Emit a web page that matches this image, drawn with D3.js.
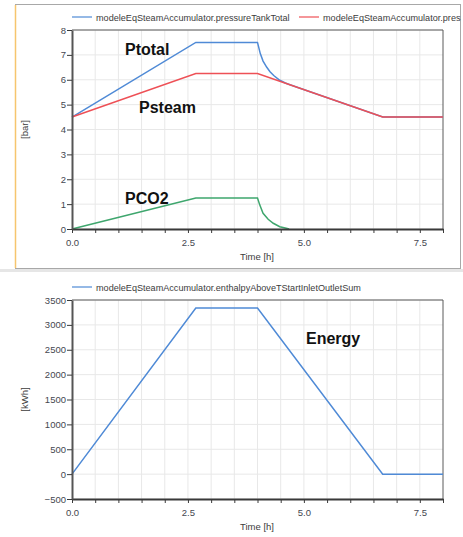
<!DOCTYPE html>
<html>
<head>
<meta charset="utf-8">
<script src="https://cdn.jsdelivr.net/npm/d3@7"></script>
<style>
  body { margin: 0; background: #fff; }
  text { font-family: "Liberation Sans", Arial, sans-serif; }
  .tick text { fill: #45474f; font-size: 9.5px; }
  .legend { fill: #3c3c3c; font-size: 9.1px; }
  .axis-label { fill: #3c3c3c; font-size: 9.5px; }
  .note { fill: #111; font-size: 16px; font-weight: bold; }
</style>
</head>
<body>
<div id="chart"></div>
<script>
// 1: DATA
const xTickLabels = [0, 2.5, 5, 7.5];

const pTotalTime = [0, 2.67, 4.0, 4.06, 4.12, 4.2, 4.27, 4.35, 4.48, 4.6, 4.7, 6.7, 8.0];
const pTotalVal  = [4.5, 7.5, 7.5, 7.05, 6.75, 6.5, 6.32, 6.17, 5.98, 5.87, 5.8, 4.5, 4.5];

const pSteamTime = [0, 2.67, 4.0, 6.7, 8.0];
const pSteamVal  = [4.5, 6.25, 6.25, 4.5, 4.5];

const pCO2Time = [0, 2.67, 4.0, 4.05, 4.12, 4.23, 4.34, 4.48, 4.62, 4.68];
const pCO2Val  = [0, 1.25, 1.25, 0.96, 0.63, 0.39, 0.23, 0.09, 0.03, 0];

const energyTime = [0, 2.67, 4.0, 6.7, 8.0];
const energyVal  = [0, 3340, 3340, 0, 0];

// second name is cut by the window edge in the original, keep what shows
const legendTop = ["modeleEqSteamAccumulator.pressureTankTotal", "modeleEqSteamAccumulator.pres"];
const legendBottom = ["modeleEqSteamAccumulator.enthalpyAboveTStartInletOutletSum"];

const blue = "#4f8ad6", red = "#ee5056", green = "#3ea66d";

const zip = (ts, vs) => ts.map((t, i) => ({ t, v: vs[i] }));

// 2: SVG
const svg = d3.select("#chart").append("svg")
    .attr("width", 463)
    .attr("height", 537);

// frame around top panel
svg.append("rect").attr("x", 0).attr("y", 269).attr("width", 463).attr("height", 3).attr("fill", "#e6e6e6");
svg.append("rect")
    .attr("x", 15.5).attr("y", 4.5).attr("width", 445).attr("height", 264)
    .attr("fill", "#fff").attr("stroke", "#a8a8a8");
svg.append("line").attr("x1", 15.5).attr("x2", 15.5).attr("y1", 5).attr("y2", 268)
    .attr("stroke", "#f6c56e").attr("stroke-width", 1.5);

// 3: PANEL BUILDER
function drawPanel(p) {
    const x = d3.scaleLinear().domain([0, 8]).range([72, 443]);
    const y = d3.scaleLinear().domain(p.yDomain).range([p.bottom, p.top]);
    const g = svg.append("g");

    // grid
    g.selectAll(".vgrid").data(d3.range(0.5, 8, 0.5)).enter().append("line")
        .attr("x1", d => x(d)).attr("x2", d => x(d))
        .attr("y1", p.top).attr("y2", p.bottom)
        .attr("stroke", "#e8e8e8");
    g.selectAll(".hgrid").data(p.yTicks).enter().append("line")
        .attr("x1", 72).attr("x2", 443)
        .attr("y1", d => y(d)).attr("y2", d => y(d))
        .attr("stroke", "#e8e8e8");

    // frame top/right
    g.append("path")
        .attr("d", `M72,${p.top}H443V${p.bottom}`)
        .attr("fill", "none").attr("stroke", "#5a5a5a");

    // lines
    const line = d3.line().x(d => x(d.t)).y(d => y(d.v));
    p.series.forEach(s => {
        g.append("path").datum(s.data).attr("d", line)
            .attr("fill", "none").attr("stroke", s.color).attr("stroke-width", 1.5);
    });

    // axes
    const xAxis = g.append("g")
        .attr("transform", `translate(0,${p.bottom})`)
        .call(d3.axisBottom(x).tickValues(d3.range(0, 8.01, 0.5)).tickSize(4).tickSizeOuter(0)
            .tickFormat(d => xTickLabels.includes(d) ? d3.format(".1f")(d) : ""));
    xAxis.select(".domain").attr("stroke", "#3a3a3a").attr("stroke-width", 2);
    xAxis.selectAll(".tick line").attr("stroke", "#3a3a3a");
    xAxis.selectAll(".tick text").attr("dy", "1.1em");

    const yAxis = g.append("g")
        .attr("transform", "translate(72,0)")
        .call(d3.axisLeft(y).tickValues(p.yTicks).tickSize(5).tickSizeOuter(0).tickPadding(1)
            .tickFormat(d3.format("d")));
    yAxis.select(".domain").attr("stroke", "#555").attr("stroke-width", 2);
    yAxis.selectAll(".tick line").attr("stroke", "#3a3a3a");
    yAxis.selectAll("text").attr("font-family", "Liberation Sans, Arial, sans-serif");
    xAxis.selectAll("text").attr("font-family", "Liberation Sans, Arial, sans-serif");

    // labels
    g.append("text").attr("class", "axis-label")
        .attr("text-anchor", "middle")
        .attr("x", 257).attr("y", p.bottom + 31)
        .text("Time [h]");
    g.append("text").attr("class", "axis-label")
        .attr("text-anchor", "middle")
        .attr("transform", `translate(28,${(p.top + p.bottom) / 2}) rotate(-90)`)
        .text(p.yLabel);

    // legend
    p.legend.forEach((name, i) => {
        const lx = p.legendX[i];
        g.append("line").attr("x1", lx).attr("x2", lx + 20)
            .attr("y1", p.legendY).attr("y2", p.legendY)
            .attr("stroke", p.series[i].color).attr("stroke-width", 1.2);
        g.append("text").attr("class", "legend")
            .attr("x", lx + 24).attr("y", p.legendY + 3.5)
            .text(name);
    });

    // annotations
    p.notes.forEach(n => {
        g.append("text").attr("class", "note")
            .attr("x", n.x).attr("y", n.y).text(n.text);
    });
}

// 4: TOP PANEL (pressures)
drawPanel({
    top: 30, bottom: 229,
    yDomain: [0, 8], yTicks: d3.range(0, 9, 1),
    yLabel: "[bar]",
    series: [
        { data: zip(pTotalTime, pTotalVal), color: blue },
        { data: zip(pSteamTime, pSteamVal), color: red },
        { data: zip(pCO2Time, pCO2Val), color: green }
    ],
    legend: legendTop, legendX: [72, 299], legendY: 17,
    notes: [
        { text: "Ptotal", x: 125, y: 55 },
        { text: "Psteam", x: 139, y: 113 },
        { text: "PCO2", x: 125, y: 204 }
    ]
});

// 5: BOTTOM PANEL (energy)
drawPanel({
    top: 300, bottom: 499,
    yDomain: [-500, 3500], yTicks: d3.range(-500, 3501, 500),
    yLabel: "[kWh]",
    series: [{ data: zip(energyTime, energyVal), color: blue }],
    legend: legendBottom, legendX: [72], legendY: 287,
    notes: [{ text: "Energy", x: 306, y: 344 }]
});
</script>
</body>
</html>
